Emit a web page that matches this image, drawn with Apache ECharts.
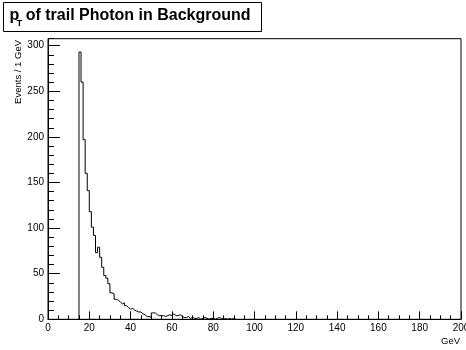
<!DOCTYPE html>
<html>
<head>
<meta charset="utf-8">
<script src="https://cdn.jsdelivr.net/npm/echarts@6/dist/echarts.min.js"></script>
<style>
  html, body { margin: 0; padding: 0; background: #fff; }
  #chart { width: 466px; height: 350px; }
</style>
</head>
<body>
<div id="chart"></div>
<script>
// Histogram of trailing-photon pT, 1 GeV bins starting at 15 GeV
const binStart = 15;
const binWidth = 1;
const counts = [
  293, 260, 197, 160, 141, 118, 101, 92, 73, 79,
  68, 57, 48, 45, 39, 29, 28, 22, 21, 19,
  17, 18, 15, 13, 11, 12, 10, 9, 8, 8,
  6, 5, 3, 3, 2, 7, 7, 5, 4, 4,
  4, 3, 4, 5, 4, 6, 4, 4, 5, 3,
  2, 2, 3, 1, 2, 1, 1, 2, 0, 1,
  2, 1, 0, 1, 1, 0, 1, 2, 1, 0,
  1, 0, 1, 0, 1, 0
];
const xRange = [0, 200];
const yMax = 307.65;
const xTickStep = 20;
const yTickStep = 50;
const yMinorStep = 10;

// Step outline: rise at the first edge, one point per bin, drop after the last bin
const outline = [[binStart, 0]];
counts.forEach((c, i) => outline.push([binStart + i * binWidth, c]));
outline.push([binStart + counts.length * binWidth, 0]);

const FONT = '"Liberation Sans", Arial, Helvetica, sans-serif';
const chart = echarts.init(document.getElementById('chart'), null, { renderer: 'canvas' });

chart.setOption({
  animation: false,
  backgroundColor: '#fff',
  grid: {
    left: 48, right: 5, top: 38.7, bottom: 30.7,
    outerBoundsMode: 'none',
    containLabel: false,
    show: true, borderColor: '#000', borderWidth: 1, backgroundColor: 'transparent'
  },
  xAxis: {
    type: 'value', min: xRange[0], max: xRange[1], interval: xTickStep,
    axisLine: { show: true, onZero: false, lineStyle: { color: '#000', width: 1 } },
    axisTick: { show: true, inside: true, length: 8, lineStyle: { color: '#000' } },
    minorTick: { show: true, splitNumber: 4, length: 4, lineStyle: { color: '#000' } },
    axisLabel: { color: '#000', fontSize: 10, fontFamily: FONT, margin: 4, hideOverlap: false },
    splitLine: { show: false }
  },
  yAxis: [
    {
      type: 'value', min: 0, max: yMax, interval: yTickStep,
      axisLine: { show: true, onZero: false, lineStyle: { color: '#000', width: 1 } },
      axisTick: { show: true, inside: true, length: 12, lineStyle: { color: '#000' } },
      axisLabel: { color: '#000', fontSize: 10, fontFamily: FONT, margin: 4, showMaxLabel: false },
      splitLine: { show: false }
    },
    {
      type: 'value', min: 0, max: yMax, interval: yMinorStep, position: 'left',
      axisLine: { show: false },
      axisTick: { show: true, inside: true, length: 6, lineStyle: { color: '#000' } },
      axisLabel: { show: false },
      splitLine: { show: false }
    }
  ],
  series: [{
    type: 'line',
    step: 'end',
    data: outline,
    symbol: 'none',
    lineStyle: { color: '#000', width: 1 },
    xAxisIndex: 0,
    yAxisIndex: 0
  }],
  graphic: [
    // title box
    { type: 'rect', shape: { x: 3.5, y: 2.5, width: 258, height: 29 },
      style: { fill: '#fff', stroke: '#000', lineWidth: 1 }, z: 10 },
    { type: 'text', x: 9.5, y: 15.5, z: 11,
      style: { text: 'p', font: 'bold 16px ' + FONT, fill: '#000', verticalAlign: 'middle' } },
    { type: 'text', x: 16.5, y: 23.4, z: 11,
      style: { text: 'T', font: 'bold 9.5px ' + FONT, fill: '#000', verticalAlign: 'middle' } },
    { type: 'text', x: 25.7, y: 15.5, z: 11,
      style: { text: 'of trail Photon in Background', font: 'bold 16px ' + FONT, fill: '#000', verticalAlign: 'middle' } },
    // axis titles
    { type: 'text', x: 18.5, y: 40, rotation: Math.PI / 2, z: 11,
      style: { text: 'Events / 1 GeV', font: '9.5px ' + FONT, fill: '#000', align: 'right', verticalAlign: 'middle' } },
    { type: 'text', x: 460, y: 341, z: 11,
      style: { text: 'GeV', font: '9.5px ' + FONT, fill: '#000', align: 'right', verticalAlign: 'middle' } }
  ]
});
</script>
</body>
</html>
